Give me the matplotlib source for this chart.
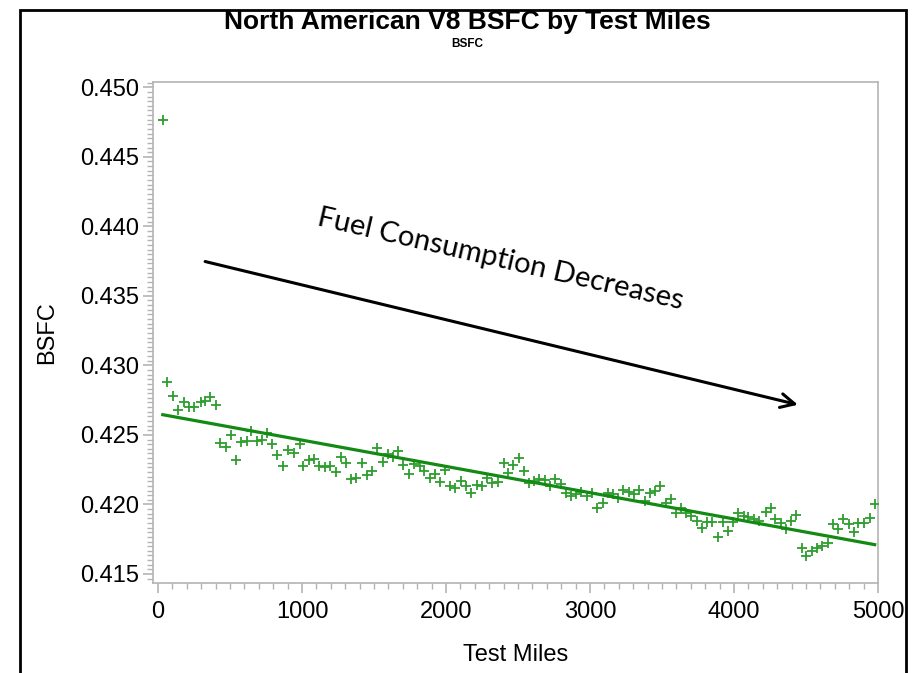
import matplotlib
matplotlib.use("Agg")
import matplotlib.pyplot as plt
import numpy as np
from matplotlib.ticker import MultipleLocator, AutoMinorLocator
from matplotlib.patches import Rectangle

title = "North American V8 BSFC by Test Miles"
subtitle = "BSFC"
x_label = "Test Miles"
y_label = "BSFC"
annotation = "Fuel Consumption Decreases"

x_ticks = [0, 1000, 2000, 3000, 4000, 5000]
y_ticks = [0.415, 0.420, 0.425, 0.430, 0.435, 0.440, 0.445, 0.450]

miles = [33, 65, 102, 141, 181, 214, 250, 297, 327, 364, 403, 429, 471, 506, 542,
         575, 617, 647, 686, 723, 760, 793, 828, 871, 904, 941, 983, 1010, 1048, 1085,
         1120, 1157, 1196, 1236, 1271, 1307, 1340, 1377, 1414, 1451, 1483, 1523, 1560,
         1595, 1631, 1669, 1702, 1741, 1775, 1817, 1845, 1887, 1924, 1959, 1996, 2031,
         2065, 2105, 2142, 2172, 2214, 2253, 2286, 2321, 2362, 2401, 2432, 2467, 2507,
         2540, 2575, 2610, 2645, 2684, 2721, 2756, 2796, 2830, 2865, 2905, 2940, 2976,
         3016, 3051, 3090, 3125, 3159, 3194, 3229, 3271, 3303, 3338, 3380, 3415, 3449,
         3486, 3526, 3560, 3595, 3635, 3670, 3704, 3741, 3776, 3811, 3846, 3889, 3924,
         3959, 3994, 4029, 4066, 4098, 4136, 4177, 4219, 4256, 4286, 4325, 4362, 4395,
         4432, 4469, 4499, 4539, 4576, 4613, 4650, 4687, 4724, 4757, 4796, 4835, 4863,
         4905, 4944, 4977]

bsfc = [0.44762, 0.42880, 0.42782, 0.42679, 0.42734, 0.42698, 0.42698, 0.42736, 0.42746,
        0.42775, 0.42715, 0.42441, 0.42412, 0.42499, 0.42316, 0.42448, 0.42456, 0.42530,
        0.42456, 0.42465, 0.42513, 0.42438, 0.42352, 0.42273, 0.42388, 0.42369, 0.42436,
        0.42278, 0.42321, 0.42328, 0.42280, 0.42268, 0.42273, 0.42234, 0.42340, 0.42297,
        0.42184, 0.42189, 0.42297, 0.42213, 0.42244, 0.42409, 0.42304, 0.42362, 0.42340,
        0.42386, 0.42283, 0.42218, 0.42290, 0.42273, 0.42237, 0.42189, 0.42220, 0.42160,
        0.42249, 0.42136, 0.42117, 0.42170, 0.42136, 0.42085, 0.42141, 0.42136, 0.42189,
        0.42153, 0.42160, 0.42297, 0.42225, 0.42285, 0.42337, 0.42244, 0.42157, 0.42165,
        0.42182, 0.42177, 0.42134, 0.42182, 0.42146, 0.42081, 0.42062, 0.42076, 0.42088,
        0.42062, 0.42081, 0.41977, 0.42009, 0.42081, 0.42076, 0.42045, 0.42105, 0.42088,
        0.42078, 0.42105, 0.42028, 0.42085, 0.42100, 0.42134, 0.42009, 0.42040, 0.41941,
        0.41973, 0.41937, 0.41918, 0.41882, 0.41829, 0.41877, 0.41877, 0.41768, 0.41877,
        0.41812, 0.41877, 0.41937, 0.41918, 0.41908, 0.41894, 0.41878, 0.41944, 0.41977,
        0.41894, 0.41869, 0.41822, 0.41882, 0.41925, 0.41685, 0.41629, 0.41665, 0.41685,
        0.41704, 0.41721, 0.41858, 0.41822, 0.41894, 0.41860, 0.41804, 0.41865, 0.41865,
        0.41905, 0.42004]

arrow_start = (327, 0.43747)
arrow_end = (4444, 0.42717)
text_pos = (2378, 0.43765)

plt.rcParams['font.family'] = ['Liberation Sans', 'DejaVu Sans']

fig = plt.figure(figsize=(9.2, 6.73), dpi=100)
ax = fig.add_axes([153/920, 1 - 583/673, (878-153)/920, (583-82)/673])

ax.scatter(miles, bsfc, marker='+', s=50, color='#2e9e2e', linewidths=1.3, zorder=3)

coef = np.polyfit(miles, bsfc, 1)
xfit = np.array([min(miles), max(miles)])
ax.plot(xfit, np.polyval(coef, xfit), color='#138a13', lw=2.3, zorder=4)

ax.set_xlim(-35, 5000)
ax.set_ylim(0.41435, 0.45038)
ax.set_xticks(x_ticks)
ax.set_xticklabels([str(v) for v in x_ticks])
ax.set_yticks(y_ticks)
ax.set_yticklabels([f"{v:.3f}" for v in y_ticks])
ax.xaxis.set_minor_locator(MultipleLocator(100))
ax.yaxis.set_minor_locator(AutoMinorLocator(15))

for s in ax.spines.values():
    s.set_color('#b4b4b4')
    s.set_linewidth(1.2)
ax.tick_params(axis='both', which='major', direction='out', length=7, width=1.2,
               color='#b4b4b4', labelsize=17, labelcolor='black')
ax.tick_params(axis='x', which='major', pad=6)
ax.tick_params(axis='y', which='major', pad=3)
ax.tick_params(axis='both', which='minor', direction='out', length=4, width=1.0,
               color='#b4b4b4')

ax.set_xlabel(x_label, fontsize=17, labelpad=15)
ax.set_ylabel(y_label, fontsize=17, labelpad=16)

fig.text(467/920, 1 - 22/673, title, ha='center', va='center',
         fontsize=19, fontweight='bold')
fig.text(467/920, 1 - 44/673, subtitle, ha='center', va='center',
         fontsize=8.5, fontweight='bold')

ax.annotate('', xy=arrow_end, xytext=arrow_start,
            arrowprops=dict(arrowstyle='->', color='black', lw=2.2,
                            mutation_scale=25, shrinkA=0, shrinkB=0))
ax.text(text_pos[0], text_pos[1], annotation, fontsize=21, family=['Lato', 'DejaVu Sans'],
        rotation=-13, rotation_mode='anchor', ha='center', va='center')

fig.patches.append(Rectangle((20/920, -0.1), (906-20)/920, 1.1 - 10/673,
                             transform=fig.transFigure, fill=False,
                             edgecolor='black', lw=2.0))

fig.savefig('out.png', dpi=100)
